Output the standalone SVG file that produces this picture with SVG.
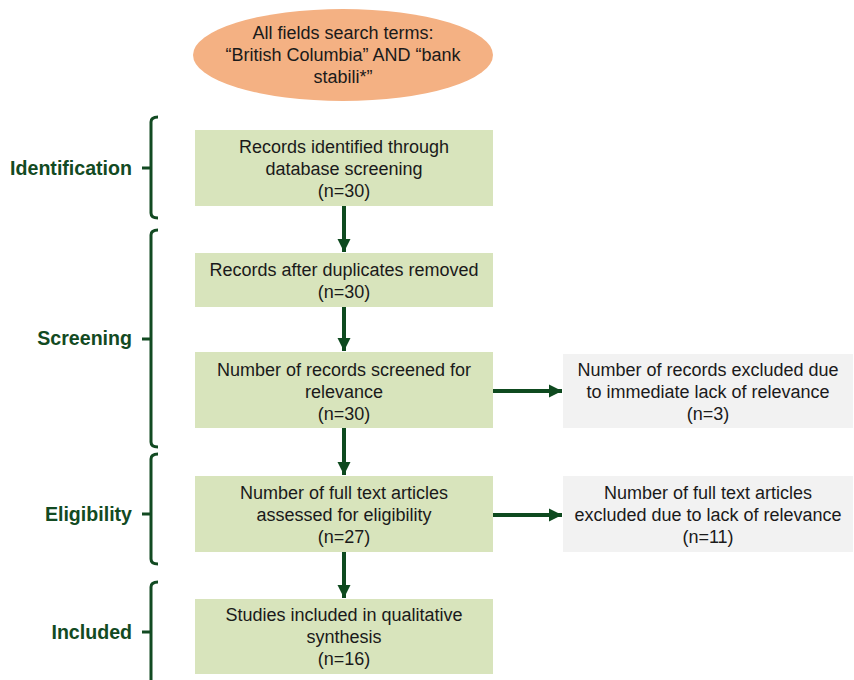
<svg xmlns="http://www.w3.org/2000/svg" width="854" height="680" viewBox="0 0 854 680">
<defs>
<style>
.box{fill:#D8E4BC;}
.grey{fill:#F2F2F2;}
.t{font-family:"Liberation Sans",Arial,sans-serif;font-size:18px;fill:#1a1a1a;text-anchor:middle;}
.lab{font-family:"Liberation Sans",Arial,sans-serif;font-size:19.6px;font-weight:bold;fill:#124A22;text-anchor:end;}
.br{fill:none;stroke:#124A22;stroke-width:3;}
.ar{fill:none;stroke:#0E4A1F;stroke-width:4;}
</style>
<marker id="ah" viewBox="0 0 10 10" refX="10" refY="5" markerWidth="3.3" markerHeight="3.3" orient="auto" markerUnits="strokeWidth">
<path d="M0,0 L10,5 L0,10 Z" fill="#0E4A1F"/>
</marker>
</defs>
<rect width="854" height="680" fill="#ffffff"/>

<g id="search">
<ellipse cx="343" cy="55" rx="150" ry="46" fill="#F4B183"/>
<text class="t" x="343" y="39">All fields search terms:</text>
<text class="t" x="343" y="61">“British Columbia” AND “bank</text>
<text class="t" x="343" y="83">stabili*”</text>
</g>

<g id="identified">
<rect class="box" x="195" y="130" width="298" height="76"/>
<text class="t" x="344" y="153">Records identified through</text>
<text class="t" x="344" y="175">database screening</text>
<text class="t" x="344" y="197">(n=30)</text>
</g>

<g id="duplicates">
<rect class="box" x="195" y="253" width="298" height="54"/>
<text class="t" x="344" y="276">Records after duplicates removed</text>
<text class="t" x="344" y="298">(n=30)</text>
</g>

<g id="screened">
<rect class="box" x="195" y="352" width="298" height="76"/>
<text class="t" x="344" y="376">Number of records screened for</text>
<text class="t" x="344" y="398">relevance</text>
<text class="t" x="344" y="420">(n=30)</text>
</g>

<g id="excluded1">
<rect class="grey" x="563" y="354" width="290" height="74"/>
<text class="t" x="708" y="376">Number of records excluded due</text>
<text class="t" x="708" y="398">to immediate lack of relevance</text>
<text class="t" x="708" y="420">(n=3)</text>
</g>

<g id="fulltext">
<rect class="box" x="195" y="476" width="298" height="76"/>
<text class="t" x="344" y="499">Number of full text articles</text>
<text class="t" x="344" y="521">assessed for eligibility</text>
<text class="t" x="344" y="543">(n=27)</text>
</g>

<g id="excluded2">
<rect class="grey" x="563" y="476" width="290" height="76"/>
<text class="t" x="708" y="499">Number of full text articles</text>
<text class="t" x="708" y="521">excluded due to lack of relevance</text>
<text class="t" x="708" y="543">(n=11)</text>
</g>

<g id="included">
<rect class="box" x="195" y="599" width="298" height="75"/>
<text class="t" x="344" y="621">Studies included in qualitative</text>
<text class="t" x="344" y="643">synthesis</text>
<text class="t" x="344" y="665">(n=16)</text>
</g>

<g id="stages">
<text class="lab" x="132" y="175">Identification</text>
<text class="lab" x="132" y="345">Screening</text>
<text class="lab" x="132" y="521">Eligibility</text>
<text class="lab" x="132" y="639">Included</text>
<path class="br" d="M158,117 Q151,117 151,122 L151,213 Q151,218 158,218 M142,168 L151,168"/>
<path class="br" d="M158,230 Q151,230 151,235 L151,442 Q151,447 158,447 M142,339 L151,339"/>
<path class="br" d="M158,454 Q151,454 151,459 L151,559 Q151,564 158,564 M142,514 L151,514"/>
<path class="br" d="M158,582 Q151,582 151,587 L151,690 M142,632 L151,632"/>
</g>

<g id="connectors">
<line class="ar" x1="344" y1="206" x2="344" y2="252" marker-end="url(#ah)"/>
<line class="ar" x1="344" y1="307" x2="344" y2="351" marker-end="url(#ah)"/>
<line class="ar" x1="344" y1="428" x2="344" y2="475" marker-end="url(#ah)"/>
<line class="ar" x1="344" y1="552" x2="344" y2="598" marker-end="url(#ah)"/>
<line class="ar" x1="493" y1="391" x2="562" y2="391" marker-end="url(#ah)"/>
<line class="ar" x1="493" y1="515" x2="562" y2="515" marker-end="url(#ah)"/>
</g>
</svg>
